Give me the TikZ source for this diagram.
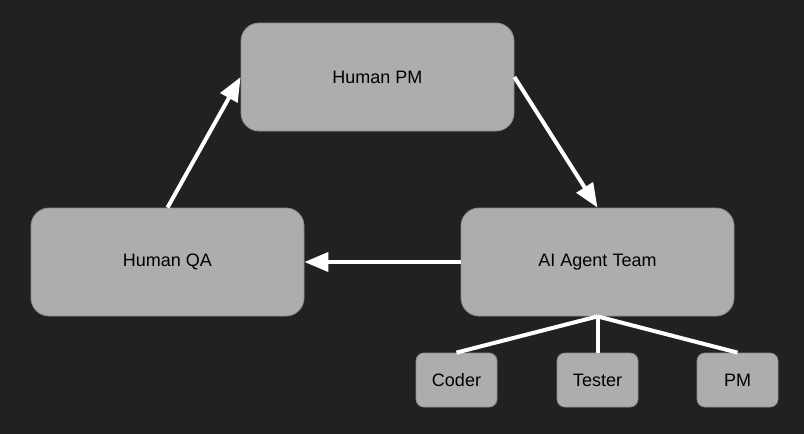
\documentclass[tikz,border=0pt]{standalone}
\usepackage{fontspec}
\setmainfont{Liberation Sans}
\usetikzlibrary{arrows.meta}

\definecolor{bgdark}{HTML}{212121}
\definecolor{boxgray}{HTML}{ADADAD}
\definecolor{boxline}{HTML}{8C8C8C}

\begin{document}
\begin{tikzpicture}[x=1pt, y=-1pt, >={Triangle[length=24pt,width=19pt]},
  line cap=butt, line join=round,
  bigbox/.style={draw=boxline, line width=0.8pt, fill=boxgray, rounded corners=18pt,
    minimum width=273pt, minimum height=108pt, font=\fontsize{18}{21}\selectfont},
  smallbox/.style={draw=boxline, line width=0.8pt, fill=boxgray, rounded corners=8pt,
    minimum width=81pt, minimum height=54pt, font=\fontsize{18}{21}\selectfont},
  flow/.style={->, white, line width=4pt},
  link/.style={white, line width=4pt}]

% ----------------------------
% BACKGROUND
% ----------------------------
\fill[bgdark] (0,0) rectangle (804,434);
\useasboundingbox (0,0) rectangle (804,434);

% ----------------------------
% MAIN LOOP
% ----------------------------
\node[bigbox] (pm)   at (377.5,77)  {Human PM};
\node[bigbox] (qa)   at (167.5,262) {Human QA};
\node[bigbox] (team) at (597.5,262) {AI Agent Team};

% ----------------------------
% AGENT ROLES
% ----------------------------
\node[smallbox] (coder)  at (456.5,380) {Coder};
\node[smallbox] (tester) at (597.5,380) {Tester};
\node[smallbox] (agpm)   at (737.5,380) {PM};

% ----------------------------
% ARROWS
% ----------------------------
\draw[flow] (pm.east) -- (team.north);
\draw[flow] (team.west) -- (qa.east);
\draw[flow] (qa.north) -- (pm.west);

% Tree from team to roles
\draw[link] (team.south) -- (coder.north);
\draw[link] (team.south) -- (tester.north);
\draw[link] (team.south) -- (agpm.north);

\end{tikzpicture}
\end{document}
